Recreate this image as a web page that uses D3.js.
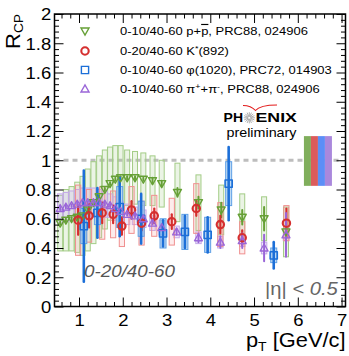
<!DOCTYPE html>
<html>
<head>
<meta charset="utf-8">
<style>
body { margin: 0; background: #fff; }
text { font-family: "Liberation Sans", Arial, Helvetica, sans-serif; }
</style>
<script src="https://cdn.jsdelivr.net/npm/d3@7"></script>
</head>
<body>
<div id="container"></div>
<script>

// ---- data ----
// p + pbar, 0-10/40-60
const protonPt   = [0.57, 0.70, 0.83, 0.96, 1.08, 1.20, 1.33, 1.46, 1.59, 1.71, 1.83, 1.95, 2.10, 2.28, 2.47, 2.68, 2.89, 3.25, 3.73, 4.25, 4.73, 5.23, 5.73];
const protonRcp  = [0.57, 0.59, 0.60, 0.61, 0.62, 0.66, 0.71, 0.75, 0.80, 0.84, 0.87, 0.88, 0.88, 0.88, 0.87, 0.86, 0.84, 0.78, 0.71, 0.66, 0.61, 0.60, 0.51];
const protonStat = [0.01, 0.01, 0.01, 0.01, 0.01, 0.01, 0.01, 0.01, 0.01, 0.01, 0.01, 0.01, 0.01, 0.01, 0.01, 0.02, 0.02, 0.03, 0.04, 0.05, 0.05, 0.08, 0.08];
const protonSys  = [0.19, 0.21, 0.22, 0.24, 0.27, 0.28, 0.28, 0.28, 0.27, 0.25, 0.23, 0.22, 0.19, 0.18, 0.18, 0.17, 0.16, 0.20, 0.19, 0.17, 0.16, 0.15, 0.17];

// K*(892), 0-20/40-60
const kstarPt   = [0.98, 1.23, 1.53, 1.78, 1.98, 2.20, 2.43, 2.72, 3.12, 3.68, 4.23, 4.73, 5.74];
const kstarRcp  = [0.59, 0.62, 0.64, 0.63, 0.55, 0.66, 0.57, 0.62, 0.58, 0.67, 0.56, 0.47, 0.57];
const kstarStat = [0.10, 0.08, 0.07, 0.06, 0.06, 0.06, 0.05, 0.05, 0.05, 0.05, 0.06, 0.05, 0.10];
const kstarSys  = [0.24, 0.18, 0.18, 0.16, 0.14, 0.16, 0.15, 0.14, 0.16, 0.17, 0.15, 0.11, 0.12];

// phi(1020), 0-10/40-60
const phiPt   = [1.11, 1.42, 1.93, 2.42, 2.92, 3.42, 3.94, 4.42, 5.45];
const phiRcp  = [0.55, 0.64, 0.68, 0.60, 0.50, 0.51, 0.49, 0.84, 0.35];
const phiStat = [0.38, 0.17, 0.20, 0.17, 0.09, 0.11, 0.12, 0.25, 0.09];
const phiSys  = [0.12, 0.08, 0.14, 0.12, 0.10, 0.12, 0.12, 0.15, 0.05];

// pi+ + pi-, 0-10/40-60
const pionPt   = [0.57, 0.70, 0.83, 0.96, 1.08, 1.20, 1.33, 1.46, 1.59, 1.71, 1.83, 1.95, 2.10, 2.28, 2.47, 2.68, 2.89, 3.23, 3.73, 4.23, 4.73, 5.23, 5.73];
const pionRcp  = [0.67, 0.68, 0.69, 0.70, 0.71, 0.71, 0.71, 0.71, 0.70, 0.69, 0.67, 0.65, 0.63, 0.62, 0.60, 0.57, 0.54, 0.51, 0.47, 0.44, 0.45, 0.40, 0.49];
const pionStat = [0.01, 0.01, 0.01, 0.01, 0.01, 0.01, 0.01, 0.01, 0.01, 0.01, 0.01, 0.01, 0.01, 0.01, 0.01, 0.01, 0.01, 0.02, 0.03, 0.04, 0.05, 0.09, 0.15];
const pionSys  = [0.10, 0.10, 0.10, 0.10, 0.10, 0.10, 0.10, 0.09, 0.09, 0.08, 0.08, 0.07, 0.07, 0.06, 0.06, 0.05, 0.05, 0.04, 0.04, 0.04, 0.04, 0.04, 0.04];

// global normalisation boxes at R=1 (p, K*, phi, pi)
const normPt   = [6.22, 6.38, 6.54, 6.70];
const normUp   = [0.165, 0.165, 0.165, 0.165];
const normDown = [0.175, 0.175, 0.175, 0.175];

const xTicks = [1, 2, 3, 4, 5, 6, 7];
const yTicks = [0, 0.2, 0.4, 0.6, 0.8, 1, 1.2, 1.4, 1.6, 1.8, 2];
const yTickLabels = ["0", "0.2", "0.4", "0.6", "0.8", "1", "1.2", "1.4", "1.6", "1.8", "2"];

const legendLabels = ["0-10/40-60 p+p̄, PRC88, 024906", "0-20/40-60 K*(892)", "0-10/40-60 φ(1020), PRC72, 014903", "0-10/40-60 π⁺+π⁻, PRC88, 024906"];

// ---- layout ----
const width = 349, height = 356;
const SX = 1.12;   // fonts in the original are a bit wide

const x = d3.scaleLinear().domain([0.44, 7.09]).range([54.5, 345.5]);
const y = d3.scaleLinear().domain([0, 2]).range([306.5, 14]);

const GREEN = "#66a036", RED = "#d52f2f", BLUE = "#1c6fd8", PURPLE = "#9a66d8";

const svg = d3.create("svg").attr("width", width).attr("height", height);
const g = svg.append("g");

// dashed line at 1
g.append("line")
  .attr("x1", x.range()[0]).attr("x2", x.range()[1] - 6)
  .attr("y1", y(1)).attr("y2", y(1))
  .attr("stroke", "#bdbdbd").attr("stroke-width", 3).attr("stroke-dasharray", "5,4");

// normalisation boxes
const normColors = ["#80ae5c", "#db5b5b", "#5c8ef7", "#aa88dc"];
g.selectAll(null).data(d3.range(normPt.length)).join("rect")
  .attr("x", i => x(normPt[i] - 0.08))
  .attr("width", i => x(normPt[i] + 0.08) - x(normPt[i] - 0.08))
  .attr("y", i => y(1 + normUp[i]))
  .attr("height", i => y(1 - normDown[i]) - y(1 + normUp[i]))
  .attr("fill", i => normColors[i]);

function sysBoxes(pt, val, sys, w, fill, stroke) {
  g.append("g").selectAll("rect").data(d3.range(pt.length)).join("rect")
    .attr("x", i => x(pt[i]) - w / 2).attr("width", w)
    .attr("y", i => y(val[i] + sys[i]))
    .attr("height", i => y(val[i] - sys[i]) - y(val[i] + sys[i]))
    .attr("fill", fill).attr("stroke", stroke).attr("stroke-width", 1);
}
function statBars(pt, val, stat, color, sw) {
  g.append("g").selectAll("line").data(d3.range(pt.length)).join("line")
    .attr("x1", i => x(pt[i])).attr("x2", i => x(pt[i]))
    .attr("y1", i => y(val[i] + stat[i])).attr("y2", i => y(val[i] - stat[i]))
    .attr("stroke", color).attr("stroke-width", sw).attr("stroke-linecap", "round");
}
const shapes = {
  down: "M-4,-3L4,-3L0,4Z",
  up: "M-4,3L4,3L0,-4Z",
  square: "M-3.6,-3.6h7.2v7.2h-7.2Z"
};
function markers(pt, val, shape, color, sw) {
  const sel = g.append("g").selectAll("*").data(d3.range(pt.length));
  if (shape === "circle") {
    sel.join("circle").attr("cx", i => x(pt[i])).attr("cy", i => y(val[i])).attr("r", 3.7)
      .attr("fill", "none").attr("stroke", color).attr("stroke-width", sw);
  } else {
    sel.join("path").attr("d", shapes[shape])
      .attr("transform", i => `translate(${x(pt[i])},${y(val[i])})`)
      .attr("fill", "none").attr("stroke", color).attr("stroke-width", sw).attr("stroke-linejoin", "round");
  }
}

sysBoxes(protonPt, protonRcp, protonSys, 5, "rgba(165,205,135,0.22)", "#a3cc86");
sysBoxes(pionPt, pionRcp, pionSys, 5.4, "rgba(200,175,238,0.30)", "#c4a8e8");
sysBoxes(kstarPt, kstarRcp, kstarSys, 5.2, "rgba(245,170,170,0.22)", "#f09090");
sysBoxes(phiPt, phiRcp, phiSys, 6, "rgba(170,205,240,0.75)", "#5fa0e6");

statBars(protonPt, protonRcp, protonStat, GREEN, 2);
statBars(kstarPt, kstarRcp, kstarStat, RED, 2.2);
statBars(pionPt, pionRcp, pionStat, PURPLE, 2);
statBars(phiPt, phiRcp, phiStat, BLUE, 2.6);

markers(protonPt, protonRcp, "down", GREEN, 1.4);
markers(phiPt, phiRcp, "square", BLUE, 1.5);
markers(kstarPt, kstarRcp, "circle", RED, 2.1);
markers(pionPt, pionRcp, "up", PURPLE, 1.3);

// ---- axes ----
const xMinor = d3.range(6, 71, 2).map(d => d / 10).filter(d => d % 1 !== 0);
const yMinor = d3.range(1, 50).map(d => d * 0.04).filter(d => Math.abs(d * 5 - Math.round(d * 5)) > 1e-6);

g.append("g").attr("transform", `translate(0,${y.range()[0]})`)
  .call(d3.axisBottom(x).tickValues(xTicks).tickSize(-9).tickSizeOuter(0).tickPadding(8).tickFormat(d3.format("d")));
g.append("g").attr("transform", `translate(0,${y.range()[0]})`)
  .call(d3.axisBottom(x).tickValues(xMinor).tickSize(-4.5).tickSizeOuter(0).tickFormat(""));
g.append("g").attr("transform", `translate(0,${y.range()[1]})`)
  .call(d3.axisTop(x).tickValues(xTicks).tickSize(-9).tickSizeOuter(0).tickFormat(""));
g.append("g").attr("transform", `translate(0,${y.range()[1]})`)
  .call(d3.axisTop(x).tickValues(xMinor).tickSize(-4.5).tickSizeOuter(0).tickFormat(""));

const axL = g.append("g").attr("transform", `translate(${x.range()[0]},0)`)
  .call(d3.axisLeft(y).tickValues(yTicks).tickSize(-9).tickSizeOuter(0).tickPadding(3).tickFormat((d, i) => yTickLabels[i]));
g.append("g").attr("transform", `translate(${x.range()[0]},0)`)
  .call(d3.axisLeft(y).tickValues(yMinor).tickSize(-4.5).tickSizeOuter(0).tickFormat(""));
g.append("g").attr("transform", `translate(${x.range()[1]},0)`)
  .call(d3.axisRight(y).tickValues(yTicks).tickSize(-9).tickSizeOuter(0).tickFormat(""));
g.append("g").attr("transform", `translate(${x.range()[1]},0)`)
  .call(d3.axisRight(y).tickValues(yMinor).tickSize(-4.5).tickSizeOuter(0).tickFormat(""));

g.selectAll(".domain").remove();
g.selectAll(".tick line").attr("stroke", "#000").attr("stroke-width", 1);
g.selectAll(".tick text").attr("font-family", "Liberation Sans, Arial, sans-serif")
  .attr("font-size", 16.5).attr("fill", "#000").attr("transform", `scale(${SX},1)`);
axL.selectAll(".tick text").attr("dy", "0.36em");

g.append("rect")
  .attr("x", x.range()[0]).attr("y", y.range()[1])
  .attr("width", x.range()[1] - x.range()[0]).attr("height", y.range()[0] - y.range()[1])
  .attr("fill", "none").attr("stroke", "#000").attr("stroke-width", 1.5);

function txt(px, py, anchor, size) {
  return svg.append("text")
    .attr("transform", `translate(${px},${py}) scale(${SX},1)`)
    .attr("text-anchor", anchor).attr("font-size", size).attr("fill", "#000");
}

// axis titles
const yt = svg.append("text").attr("transform", "translate(20,14) rotate(-90) scale(1.1,1)")
  .attr("text-anchor", "end").attr("font-size", 20);
yt.append("tspan").text("R");
yt.append("tspan").attr("font-size", 12.5).attr("dy", 3).text("CP");

const xt = txt(345.5, 347, "end", 19.5);
xt.append("tspan").text("p");
xt.append("tspan").attr("font-size", 12.5).attr("dy", 4).text("T");
xt.append("tspan").attr("dy", -4).text(" [GeV/c]");

// ---- legend ----
const legendShapes = ["down", "circle", "square", "up"];
const legendColors = [GREEN, RED, BLUE, PURPLE];
const legendY = [31, 51, 70, 89];
legendShapes.forEach((s, i) => {
  if (s === "circle") {
    svg.append("circle").attr("cx", 85).attr("cy", legendY[i]).attr("r", 3.7)
      .attr("fill", "none").attr("stroke", legendColors[i]).attr("stroke-width", 2.1);
  } else {
    svg.append("path").attr("d", shapes[s]).attr("transform", `translate(85,${legendY[i]})`)
      .attr("fill", "none").attr("stroke", legendColors[i]).attr("stroke-width", 1.4);
  }
});
const lt0 = txt(120, legendY[0] + 4.2, "start", 11.6);
lt0.append("tspan").text("0-10/40-60 p+");
lt0.append("tspan").style("text-decoration", "overline").text("p");
lt0.append("tspan").text(", PRC88, 024906");
const lt1 = txt(120, legendY[1] + 4.2, "start", 11.6);
lt1.append("tspan").text("0-20/40-60 K");
lt1.append("tspan").attr("font-size", 8).attr("dy", -4).text("*");
lt1.append("tspan").attr("dy", 4).text("(892)");
txt(120, legendY[2] + 4.2, "start", 11.6).text(legendLabels[2]);
const lt3 = txt(120, legendY[3] + 4.2, "start", 11.6);
lt3.append("tspan").text("0-10/40-60 π");
lt3.append("tspan").attr("font-size", 8).attr("dy", -4).text("+");
lt3.append("tspan").attr("dy", 4).text("+π");
lt3.append("tspan").attr("font-size", 8).attr("dy", -4).text("-");
lt3.append("tspan").attr("dy", 4).text(", PRC88, 024906");

// ---- PHENIX preliminary ----
svg.append("path").attr("d", "M243,105.5 Q251,105.5 255.5,110.5 Q260,105 277,105")
  .attr("fill", "none").attr("stroke", "#e21b1b").attr("stroke-width", 1.1);
txt(243, 122, "end", 12.5).attr("font-weight", "bold").text("PH");
const star = svg.append("g").attr("transform", "translate(249.3,117.8)");
d3.range(16).forEach(k => {
  const a = k * Math.PI / 8;
  star.append("line").attr("x1", 1.2 * Math.cos(a)).attr("y1", 1.2 * Math.sin(a))
    .attr("x2", 5.6 * Math.cos(a)).attr("y2", 5.6 * Math.sin(a))
    .attr("stroke", "#9a9a9a").attr("stroke-width", 0.8);
});
txt(255.5, 122, "start", 12.5).attr("font-weight", "bold")
  .attr("textLength", 37).attr("lengthAdjust", "spacingAndGlyphs").text("ENIX");
txt(261.5, 137, "middle", 12.8).text("preliminary");

// ---- annotations ----
txt(84, 277, "start", 16.8).attr("font-style", "italic").attr("fill", "#555").text("0-20/40-60");
const eta = txt(265, 295, "start", 18).attr("fill", "#666");
eta.append("tspan").text("|η|");
eta.append("tspan").attr("font-style", "italic").text(" < 0.5");

container.append(svg.node());

</script>
</body>
</html>
